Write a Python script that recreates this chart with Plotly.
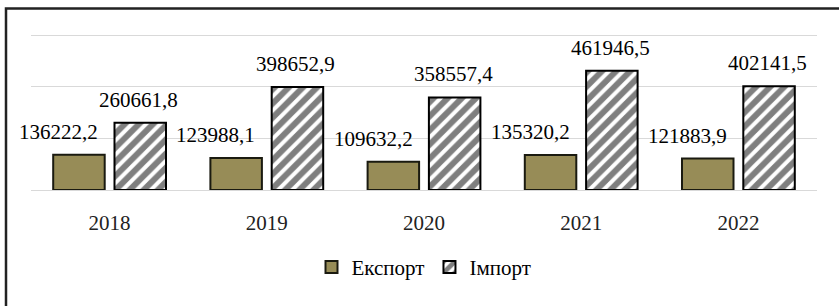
import plotly.graph_objects as go

years = ["2018", "2019", "2020", "2021", "2022"]
export_vals = [136222.2, 123988.1, 109632.2, 135320.2, 121883.9]
import_vals = [260661.8, 398652.9, 358557.4, 461946.5, 402141.5]
series_names = ["Експорт", "Імпорт"]

def fmt(v):
    return f"{v:.1f}".replace(".", ",")

FONT = "Liberation Serif, serif"

W, H = 839, 306
YMAX = 604000
L, R = 31, 22
base_px = 190.5
top_px = base_px - 155.5 * YMAX / 600000
T, B = top_px, H - base_px
pw, ph = W - L - R, H - T - B

fig = go.Figure()
fig.add_trace(go.Bar(
    x=years, y=export_vals, name=series_names[0],
    marker=dict(color="#978c57", line=dict(color="#1a1a10", width=2)),
))
fig.add_trace(go.Bar(
    x=years, y=import_vals, name=series_names[1],
    marker=dict(color="white", line=dict(color="black", width=2),
                pattern=dict(shape="/", fgcolor="black", bgcolor="white",
                             size=10, solidity=0.6)),
))

annotations = []
for i, v in enumerate(export_vals):
    annotations.append(dict(x=i, y=v, text=fmt(v), showarrow=False,
                            xref="x", yref="y", xshift=-51, yshift=23,
                            font=dict(family=FONT, size=21, color="black")))
for i, v in enumerate(import_vals):
    annotations.append(dict(x=i, y=v, text=fmt(v), showarrow=False,
                            xref="x", yref="y", xshift=29, yshift=23,
                            font=dict(family=FONT, size=21, color="black")))

def px_x(p):
    return (p - L) / pw

def px_y(p):
    return (H - B - p) / ph

fig.add_shape(type="rect", xref="paper", yref="paper",
              x0=px_x(6), x1=px_x(860), y0=px_y(330), y1=px_y(8.5),
              line=dict(color="#222222", width=2.5), fillcolor="rgba(0,0,0,0)",
              layer="below")

fig.update_layout(
    width=W, height=H,
    margin=dict(l=L, r=R, t=T, b=B, pad=0),
    paper_bgcolor="white", plot_bgcolor="white",
    barmode="group", bargap=0.22, bargroupgap=0.16,
    font=dict(family=FONT, size=18, color="black"),
    annotations=annotations,
    showlegend=True,
    legend=dict(orientation="h", x=0.5, xanchor="center", y=px_y(268), yanchor="middle",
                font=dict(family=FONT, size=21, color="black"),
                itemwidth=30, tracegroupgap=0, bgcolor="rgba(0,0,0,0)"),
    xaxis=dict(type="category", categoryorder="array", categoryarray=years,
               range=[-0.5, len(years) - 0.5],
               showline=False, ticks="", ticklabelstandoff=18,
               tickfont=dict(family=FONT, size=21, color="#222")),
    yaxis=dict(range=[0, YMAX], dtick=200000, showticklabels=False,
               showgrid=True, gridcolor="#d9d9d9", gridwidth=1,
               zeroline=True, zerolinecolor="#d9d9d9", zerolinewidth=1),
)

fig.write_html("out.html", config={"displayModeBar": False},
               post_script="document.body.style.margin='0';document.body.style.overflow='hidden';")
